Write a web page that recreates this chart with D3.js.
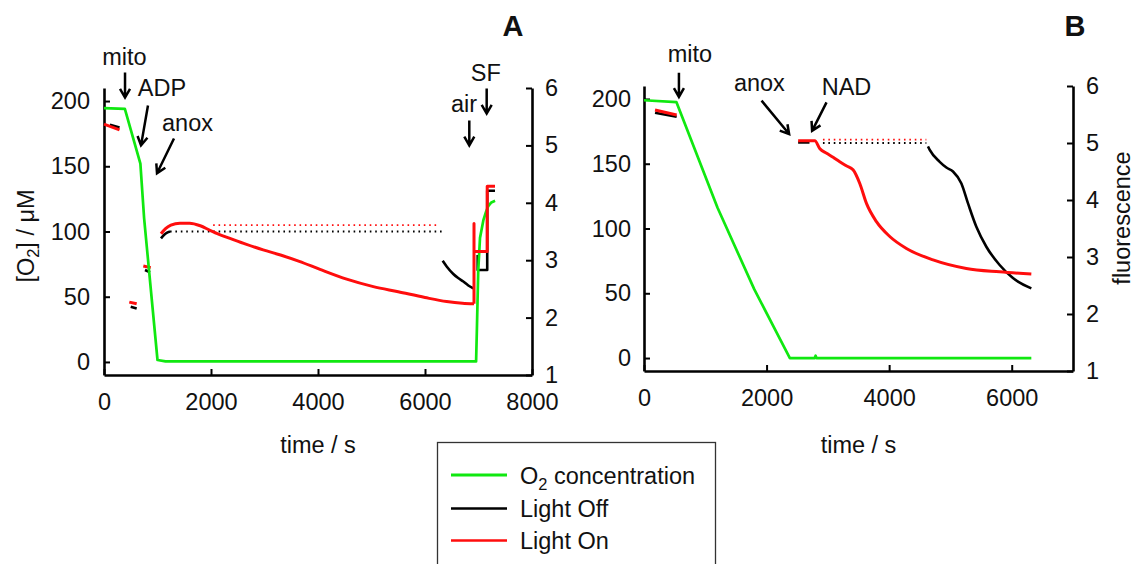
<!DOCTYPE html>
<html>
<head>
<meta charset="utf-8">
<script src="https://cdn.jsdelivr.net/npm/d3@7"></script>
<style>
  html, body { margin: 0; padding: 0; background: #fff; }
  svg { display: block; }
  text { font-family: "Liberation Sans", Arial, Helvetica, sans-serif; fill: #111; }
</style>
</head>
<body>
<svg id="chart" width="1135" height="564"></svg>
<script>
// ---------- axis ticks and domains ----------
const o2Ticks = [0, 50, 100, 150, 200];
const fluorTicks = [1, 2, 3, 4, 5, 6];
const aTimeTicks = [0, 2000, 4000, 6000, 8000];
const bTimeTicks = [0, 2000, 4000, 6000];
const aTimeDomain = [0, 8000];
const bTimeDomain = [0, 7000];
const o2Domain = [-10, 210];
const fluorDomain = [1, 6];

// ---------- panel A: [time s, value] ----------
// O2 concentration (left axis, µM)
const aO2 = [[0,194.5],[390,194],[680,152],[750,110],[1000,1.5],[1150,0.4],[6955,0.4],
             [6970,25],[6995,70],[7028,95],[7090,108.5],[7140,115],[7183,119.5],[7240,122.3],[7310,123.5]];
// fluorescence, light off (right axis)
const aOff1 = [[110,5.36],[290,5.31]];
const aOff2 = [[499,2.19],[611,2.16]];
const aOff3 = [[766,2.83],[860,2.79]];
const aOff4 = [[1065,3.38],[1120,3.44],[1180,3.48],[1234,3.50]];
const aOffDots = [[1234,3.50],[6336,3.50]];
const aOff5 = [[6330,2.99],[6405,2.89],[6529,2.76],[6620,2.69],[6716,2.63],[6810,2.56],[6903,2.51]];
const aOffStep = [[6985,3.09],[6985,2.83],[7163,2.83],[7163,4.21],[7308,4.21]];
// fluorescence, light on (right axis)
const aOn1 = [[0,5.37],[290,5.27]];
const aOn2 = [[473,2.27],[611,2.24]];
const aOn3 = [[735,2.90],[873,2.87]];
const aOn4 = [[1065,3.46],[1150,3.55],[1250,3.61],[1420,3.645],[1600,3.645],[1800,3.60],[1980,3.52],
              [2150,3.45],[2355,3.38],[2650,3.28],[2975,3.18],[3300,3.09],[3650,2.98],[4037,2.84],
              [4536,2.67],[5034,2.54],[5500,2.45],[6000,2.35],[6405,2.28],[6700,2.25],[6916,2.24]];
const aOnDots = [[2040,3.61],[6218,3.61]];
const aOnStep = [[6916,2.24],[6916,3.64],[6916,3.15],[7163,3.15],[7163,4.29],[7308,4.29]];

// ---------- panel B ----------
const bO2 = [[0,199],[530,197.5],[1200,116],[1800,53],[2380,0],[2785,0],[2800,1.8],[2815,0],[6320,0]];
const bOff1 = [[180,5.53],[533,5.46]];
const bOff2 = [[2515,5.01],[2700,5.01]];
const bOffDots = [[2920,5.00],[4607,5.00]];
const bOff3 = [[4634,4.94],[4662,4.88],[4825,4.67],[4934,4.57],[5042,4.50],[5179,4.29],[5287,3.94],
               [5423,3.53],[5586,3.18],[5803,2.86],[6020,2.63],[6320,2.45]];
const bOn1 = [[180,5.58],[533,5.49]];
const bOn2 = [[2515,5.04],[2787,5.04],[2870,4.90],[2980,4.82],[3086,4.75],[3194,4.67],[3300,4.60],
              [3411,4.53],[3521,4.29],[3630,3.94],[3793,3.62],[4010,3.36],[4282,3.15],[4716,2.95],
              [5259,2.80],[5803,2.74],[6320,2.70]];
const bOnDots = [[2920,5.06],[4607,5.06]];

// ---------- event annotations: label position and arrow, in (time, µM) ----------
const aNotes = [
  { text: "mito", at: [383, 228],   from: [393, 221.8],  to: [393, 202.7] },
  { text: "ADP",  at: [1084, 204.2], from: [822, 196.6], to: [692, 166] },
  { text: "anox", at: [1561, 176.7], from: [1308, 171.3], to: [991, 144.6] },
  { text: "air",  at: [6731, 191.4], from: [6828, 185.1], to: [6828, 166] },
  { text: "SF",   at: [7137, 215.7], from: [7153, 209.6], to: [7153, 190.4] }
];
const bNotes = [
  { text: "mito", at: [750, 228.7],  from: [570, 220.2],  to: [570, 201.6] },
  { text: "anox", at: [1883, 206.4], from: [1918, 198.7], to: [2368, 172.9] },
  { text: "NAD",  at: [3304, 203.3], from: [2978, 197.4], to: [2743, 175.4] }
];

const legendItems = [
  { key: "o2",  label: "O", sub: "2", rest: " concentration" },
  { key: "off", label: "Light Off" },
  { key: "on",  label: "Light On" }
];

// ---------- styles ----------
const COLORS = { o2: "#10e810", off: "#000000", on: "#ff0d0d" };
const WIDTHS = { o2: 2.7, off: 2.6, on: 3.0 };
const FONT = 23.5;

const svg = d3.select("#chart");

function buildPanel(cfg) {
  const x = d3.scaleLinear().domain(cfg.timeDomain).range([cfg.left, cfg.right]);
  const yL = d3.scaleLinear().domain(o2Domain).range([cfg.bottom, cfg.top]);
  const yR = d3.scaleLinear().domain(fluorDomain).range([cfg.bottom, cfg.top]);
  const g = svg.append("g");

  const styleAxis = sel => {
    sel.select(".domain").attr("stroke", "#000").attr("stroke-width", 2.6);
    sel.selectAll(".tick line").attr("stroke", "#000").attr("stroke-width", 2);
    sel.selectAll(".tick text").attr("font-size", FONT).attr("fill", "#111")
      .style("font-family", "'Liberation Sans', Arial, sans-serif");
  };
  const intFmt = d3.format("d");

  // bottom, left and right axes with inward ticks
  g.append("g").attr("transform", `translate(0,${cfg.bottom})`)
    .call(d3.axisBottom(x).tickValues(cfg.timeTicks).tickFormat(intFmt)
      .tickSizeInner(-6).tickSizeOuter(0).tickPadding(18))
    .call(styleAxis);
  g.append("g").attr("transform", `translate(${cfg.left},0)`)
    .call(d3.axisLeft(yL).tickValues(o2Ticks).tickFormat(intFmt)
      .tickSizeInner(-6).tickSizeOuter(0).tickPadding(cfg.leftPad))
    .call(styleAxis);
  g.append("g").attr("transform", `translate(${cfg.right},0)`)
    .call(d3.axisRight(yR).tickValues(fluorTicks).tickFormat(intFmt)
      .tickSizeInner(-6).tickSizeOuter(0).tickPadding(13))
    .call(styleAxis);

  // data traces
  const plot = g.append("g");
  cfg.traces.forEach(t => {
    const y = t.axis === "left" ? yL : yR;
    const line = d3.line()
      .x(d => x(d[0])).y(d => y(d[1]))
      .curve(t.smooth ? d3.curveMonotoneX : d3.curveLinear);
    const p = plot.append("path")
      .datum(t.points)
      .attr("d", line)
      .attr("fill", "none")
      .attr("stroke", COLORS[t.key])
      .attr("stroke-linejoin", "round");
    if (t.dotted) {
      p.attr("stroke-width", 1.8).attr("stroke-dasharray", "1.6,3.8");
    } else {
      p.attr("stroke-width", WIDTHS[t.key]).attr("stroke-linecap", "butt");
    }
  });

  // annotations with open arrow heads
  const ann = g.append("g");
  cfg.notes.forEach(n => {
    ann.append("text")
      .attr("x", x(n.at[0])).attr("y", yL(n.at[1]))
      .attr("text-anchor", "middle").attr("font-size", FONT)
      .text(n.text);
    const x1 = x(n.from[0]), y1 = yL(n.from[1]);
    const x2 = x(n.to[0]), y2 = yL(n.to[1]);
    const ang = Math.atan2(y2 - y1, x2 - x1);
    const hl = 10, ha = Math.PI / 6;
    const h1 = [x2 - hl * Math.cos(ang - ha), y2 - hl * Math.sin(ang - ha)];
    const h2 = [x2 - hl * Math.cos(ang + ha), y2 - hl * Math.sin(ang + ha)];
    ann.append("path")
      .attr("d", `M${x1},${y1}L${x2},${y2}M${h1[0]},${h1[1]}L${x2},${y2}L${h2[0]},${h2[1]}`)
      .attr("fill", "none").attr("stroke", "#000").attr("stroke-width", 2.5)
      .attr("stroke-linejoin", "miter");
  });

  // panel letter
  g.append("text")
    .attr("x", cfg.letterX).attr("y", 36)
    .attr("text-anchor", "middle").attr("font-size", 29).attr("font-weight", "bold")
    .text(cfg.letter);

  // x axis title
  g.append("text")
    .attr("x", (cfg.left + cfg.right) / 2).attr("y", 453)
    .attr("text-anchor", "middle").attr("font-size", FONT)
    .text("time / s");

  return g;
}

buildPanel({
  left: 104, right: 532, top: 88, bottom: 375, leftPad: 14,
  timeDomain: aTimeDomain, timeTicks: aTimeTicks, letter: "A", letterX: 513,
  notes: aNotes,
  traces: [
    { key: "off", axis: "right", points: aOff1 },
    { key: "on",  axis: "right", points: aOn1 },
    { key: "on",  axis: "right", points: aOn2 },
    { key: "off", axis: "right", points: aOff2 },
    { key: "on",  axis: "right", points: aOn3 },
    { key: "off", axis: "right", points: aOff3 },
    { key: "off", axis: "right", points: aOffDots, dotted: true },
    { key: "on",  axis: "right", points: aOnDots, dotted: true },
    { key: "off", axis: "right", points: aOff4, smooth: true },
    { key: "on",  axis: "right", points: aOn4, smooth: true },
    { key: "off", axis: "right", points: aOff5, smooth: true },
    { key: "off", axis: "right", points: aOffStep },
    { key: "o2",  axis: "left",  points: aO2 },
    { key: "on",  axis: "right", points: aOnStep }
  ]
});

buildPanel({
  left: 644, right: 1073, top: 86, bottom: 371, leftPad: 13,
  timeDomain: bTimeDomain, timeTicks: bTimeTicks, letter: "B", letterX: 1075,
  notes: bNotes,
  traces: [
    { key: "off", axis: "right", points: bOff1 },
    { key: "on",  axis: "right", points: bOn1 },
    { key: "off", axis: "right", points: bOffDots, dotted: true },
    { key: "on",  axis: "right", points: bOnDots, dotted: true },
    { key: "o2",  axis: "left",  points: bO2 },
    { key: "off", axis: "right", points: bOff2 },
    { key: "off", axis: "right", points: bOff3, smooth: true },
    { key: "on",  axis: "right", points: bOn2, smooth: true }
  ]
});

// y axis titles
const yTitle = svg.append("text")
  .attr("transform", "translate(34,236) rotate(-90)")
  .attr("text-anchor", "middle").attr("font-size", FONT);
yTitle.append("tspan").text("[O");
yTitle.append("tspan").attr("font-size", FONT * 0.7).attr("dy", 5).text("2");
yTitle.append("tspan").attr("dy", -5).text("] / \u03bcM");

svg.append("text")
  .attr("transform", "translate(1130,218) rotate(-90)")
  .attr("text-anchor", "middle").attr("font-size", FONT)
  .text("fluorescence");

// legend
const legend = svg.append("g");
legend.append("rect")
  .attr("x", 437.5).attr("y", 442.5).attr("width", 278).attr("height", 140)
  .attr("fill", "#fff").attr("stroke", "#333").attr("stroke-width", 1.3);
const rowY = [475, 508.5, 540.5];
legendItems.forEach((it, i) => {
  legend.append("line")
    .attr("x1", 451).attr("x2", 507).attr("y1", rowY[i]).attr("y2", rowY[i])
    .attr("stroke", COLORS[it.key]).attr("stroke-width", it.key === "o2" ? 3 : 2.5);
  const t = legend.append("text")
    .attr("x", 520).attr("y", rowY[i] + 8.5).attr("font-size", FONT);
  t.append("tspan").text(it.label);
  if (it.sub) {
    t.append("tspan").attr("font-size", FONT * 0.7).attr("dy", 6).text(it.sub);
    t.append("tspan").attr("dy", -6).text(it.rest);
  }
});
</script>
</body>
</html>
